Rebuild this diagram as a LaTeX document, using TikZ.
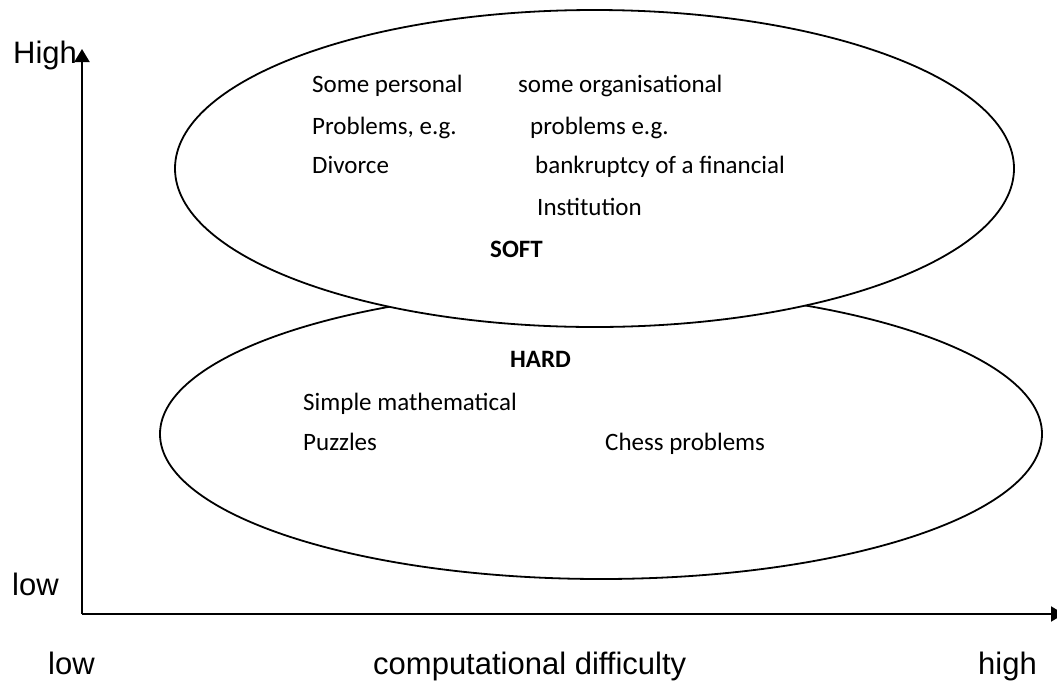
\documentclass[tikz,border=0pt]{standalone}
\usepackage{fontspec}
\setmainfont{Carlito}
\newfontfamily\axisfont{Liberation Sans}
\usetikzlibrary{shapes, arrows.meta}

\tikzset{
  blob/.style={draw, ellipse, fill=white, line width=1.8pt, inner sep=0pt},
  txt/.style={anchor=base west, inner sep=0pt, font=\fontsize{25}{30}\selectfont},
  axlabel/.style={anchor=base west, inner sep=0pt, font=\axisfont\fontsize{31}{36}\selectfont},
  axis/.style={line width=2pt, -{Triangle[width=15pt,length=13pt]}}
}

\begin{document}
\begin{tikzpicture}[x=1pt, y=-1pt]
\useasboundingbox (0,0) rectangle (1057,681);
\node [blob, minimum width=882pt, minimum height=290pt] (hard) at (601,434) {};
\node [blob, minimum width=839pt, minimum height=317pt] (soft) at (594.5,168.5) {};

\coordinate (origin) at (82,614);
\coordinate (ytip) at (82,49);
\coordinate (xtip) at (1064,614);
\draw[axis] (origin) -- (ytip);
\draw[axis] (origin) -- (xtip);

\node [axlabel] (yhigh) at (13,63) {High};
\node [axlabel] (ylow) at (12,595) {low};
\node [axlabel] (xlow) at (48,674) {low};
\node [axlabel] (xname) at (373,674) {computational difficulty};
\node [axlabel, anchor=base east] (xhigh) at (1037,674) {high};

\node [txt] (pers1) at (312,92) {Some personal};
\node [txt] (pers2) at (312,134) {Problems, e.g.};
\node [txt] (pers3) at (312,173) {Divorce};
\node [txt] (org1) at (518,92) {some organisational};
\node [txt] (org2) at (530,134) {problems e.g.};
\node [txt] (org3) at (535,173) {bankruptcy of a financial};
\node [txt] (org4) at (537,215) {Institution};
\node [txt, font=\bfseries\fontsize{25}{30}\selectfont] (softlbl) at (490,257) {SOFT};

\node [txt, font=\bfseries\fontsize{25}{30}\selectfont] (hardlbl) at (510,367) {HARD};
\node [txt] (math1) at (303,410) {Simple mathematical};
\node [txt] (math2) at (303,450) {Puzzles};
\node [txt] (chess) at (605,450) {Chess problems};
\end{tikzpicture}
\end{document}
